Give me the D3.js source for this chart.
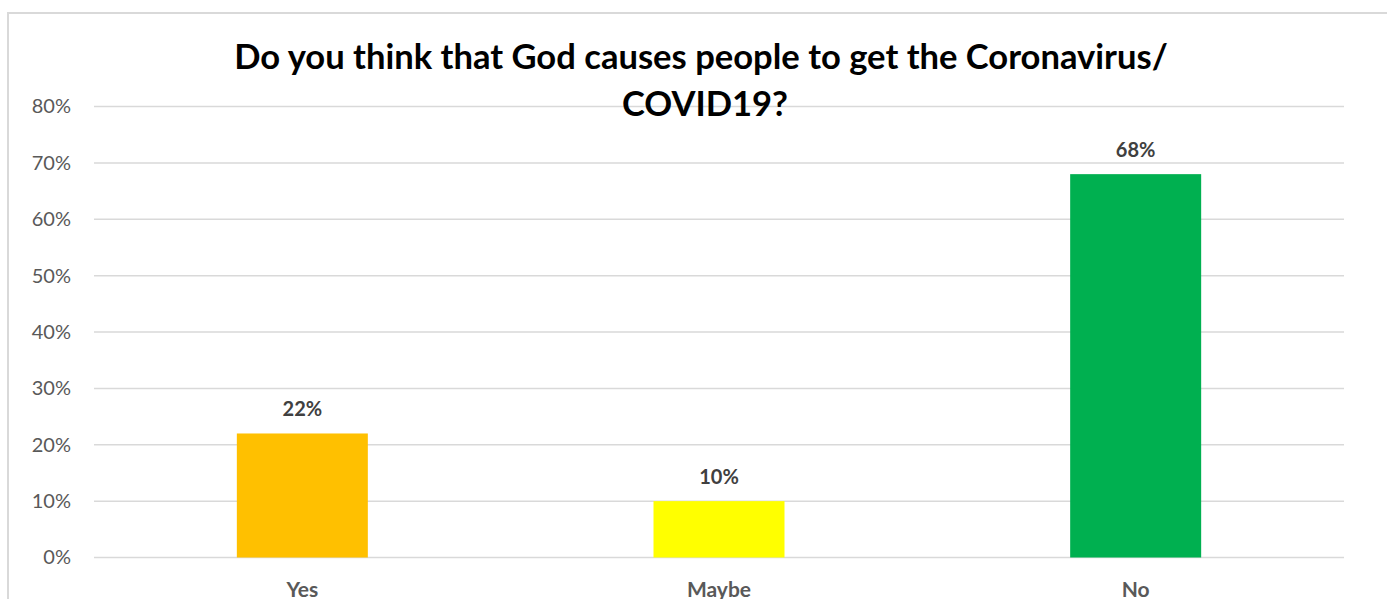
<!DOCTYPE html>
<html><head><meta charset="utf-8">
<script src="https://cdn.jsdelivr.net/npm/d3@7"></script>
<style>body{margin:0;background:#fff;} svg{display:block;}</style>
</head><body>
<script>
const categories = ["Yes", "Maybe", "No"];
const values = [0.22, 0.10, 0.68];
const colors = ["#FFC000", "#FFFF00", "#00B050"];
const yTicks = [0, 0.1, 0.2, 0.3, 0.4, 0.5, 0.6, 0.7, 0.8];
const titleLines = ["Do you think that God causes people to get the Coronavirus/", "COVID19?"];

const W = 1387, H = 599;
const svg = d3.select("body").append("svg").attr("width", W).attr("height", H);
const font = "Lato, 'Open Sans', sans-serif";

// chart frame
svg.append("rect").attr("x", 8).attr("y", 13).attr("width", 1400).attr("height", 700)
  .attr("fill", "#fff").attr("stroke", "#d9d9d9").attr("stroke-width", 2);

const plot = {left: 94, right: 1344, top: 106.5, bottom: 557.5};
const x = d3.scaleBand().domain(categories).range([plot.left, plot.right]).paddingInner(0).paddingOuter(0);
const y = d3.scaleLinear().domain([0, 0.8]).range([plot.bottom, plot.top]);

// gridlines
svg.append("g").selectAll("line").data(yTicks).join("line")
  .attr("x1", plot.left).attr("x2", plot.right)
  .attr("y1", d => y(d)).attr("y2", d => y(d))
  .attr("stroke", "#d9d9d9").attr("stroke-width", 1.5);

// y axis labels
const yAxis = d3.axisLeft(y).tickValues(yTicks).tickFormat(d3.format(".0%")).tickSize(0).tickPadding(0);
const ya = svg.append("g").attr("transform", `translate(71,0)`).call(yAxis);
ya.select(".domain").remove();
ya.selectAll("text").attr("font-family", font).attr("font-size", 20).attr("fill", "#595959");

// bars
const barW = 131;
svg.append("g").selectAll("rect").data(values).join("rect")
  .attr("x", (d, i) => x(categories[i]) + x.bandwidth() / 2 - barW / 2)
  .attr("width", barW)
  .attr("y", d => y(d))
  .attr("height", d => y(0) - y(d))
  .attr("fill", (d, i) => colors[i]);

// data labels
svg.append("g").selectAll("text").data(values).join("text")
  .attr("x", (d, i) => x(categories[i]) + x.bandwidth() / 2)
  .attr("y", d => y(d) - 17)
  .attr("text-anchor", "middle")
  .attr("font-family", font).attr("font-weight", "bold").attr("font-size", 20)
  .attr("fill", "#404040")
  .text(d => d3.format(".0%")(d));

// category labels
const xAxis = d3.axisBottom(x).tickSize(0).tickPadding(0);
const xa = svg.append("g").attr("transform", `translate(0,${plot.bottom})`).call(xAxis);
xa.select(".domain").remove();
xa.selectAll("text").attr("dy", null).attr("y", 39)
  .attr("font-family", font).attr("font-weight", "bold").attr("font-size", 21).attr("fill", "#595959");

// title
const t1 = svg.append("text").attr("x", 701).attr("y", 69).attr("text-anchor", "middle")
  .attr("font-family", font).attr("font-weight", "bold").attr("font-size", 32).attr("fill", "#000")
  .text(titleLines[0]);
const t2 = svg.append("text").attr("x", 705).attr("y", 116).attr("text-anchor", "middle")
  .attr("font-family", font).attr("font-weight", "bold").attr("font-size", 32).attr("fill", "#000")
  .text(titleLines[1]);
const target = 934;
const len = t1.node().getComputedTextLength();
const fs = 32 * target / len;
t1.attr("font-size", fs);
t2.attr("font-size", fs);
</script>
</body></html>
